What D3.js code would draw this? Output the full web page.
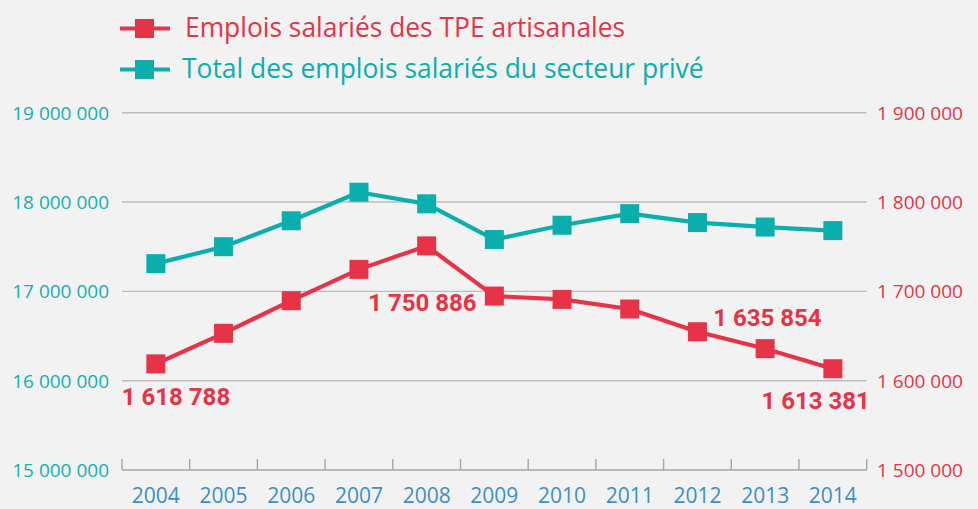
<!DOCTYPE html>
<html>
<head>
<meta charset="utf-8">
<script src="https://cdn.jsdelivr.net/npm/d3@7"></script>
<style>
  html, body { margin: 0; padding: 0; background: #f2f2f2; }
  svg { display: block; }
  .grid line { stroke: #bdbdbd; stroke-width: 1.4; }
  .ytick { font-family: "Open Sans", sans-serif; font-size: 19px; }
  .year { font-family: "Open Sans", sans-serif; font-size: 21px; fill: #3b8ecb; }
  .legend { font-family: "Open Sans", sans-serif; font-size: 26.4px; }
  .vlabel { font-family: Roboto, sans-serif; font-weight: bold; font-size: 24px; fill: #e63347; }
</style>
</head>
<body>
<script>
var years = [2004, 2005, 2006, 2007, 2008, 2009, 2010, 2011, 2012, 2013, 2014];
// Emplois salariés des TPE artisanales (axe de droite)
var tpe = [1618788, 1653000, 1689500, 1724600, 1750886, 1694700, 1691000, 1680200, 1654800, 1635854, 1613381];
// Total des emplois salariés du secteur privé (axe de gauche)
var prive = [17310000, 17500000, 17790000, 18110000, 17980000, 17580000, 17740000, 17870000, 17770000, 17720000, 17680000];
var leftTicks = [15000000, 16000000, 17000000, 18000000, 19000000];
var rightTicks = [1500000, 1600000, 1700000, 1800000, 1900000];
var seriesNames = ['Emplois salariés des TPE artisanales', 'Total des emplois salariés du secteur privé'];
var labelled = [2004, 2008, 2013, 2014];

var red = '#e63347', teal = '#0aafad';
var w = 978, h = 509;
var x0 = 122, x1 = 866.7, yTop = 112.7, yBot = 470;

var fmtBig = d3.formatLocale({decimal: ',', thousands: ' ', grouping: [3], currency: ['', '€']}).format(',d');

var x = d3.scaleBand().domain(years).range([x0, x1]);
var yL = d3.scaleLinear().domain([15000000, 19000000]).range([yBot, yTop]);
var yR = d3.scaleLinear().domain([1500000, 1900000]).range([yBot, yTop]);

var svg = d3.select('body').append('svg')
  .attr('width', w)
  .attr('height', h);

svg.append('rect').attr('width', w).attr('height', h).attr('fill', '#f2f2f2');

// grid
svg.append('g').attr('class', 'grid')
  .selectAll('line')
  .data(leftTicks.slice(1))
  .enter().append('line')
    .attr('x1', x0).attr('x2', x1)
    .attr('y1', function(d) { return yL(d); })
    .attr('y2', function(d) { return yL(d); });

// bottom axis line + ticks at band edges
svg.append('line')
  .attr('x1', x0).attr('x2', x1)
  .attr('y1', yBot).attr('y2', yBot)
  .style('stroke', '#a6a6a6').style('stroke-width', 1.6);

svg.selectAll('.xtick')
  .data(years.concat(['end']))
  .enter().append('line')
    .attr('class', 'xtick')
    .attr('x1', function(d) { return d === 'end' ? x1 : x(d); })
    .attr('x2', function(d) { return d === 'end' ? x1 : x(d); })
    .attr('y1', yBot - 11).attr('y2', yBot)
    .style('stroke', '#a6a6a6').style('stroke-width', 1.4);

svg.selectAll('.year')
  .data(years)
  .enter().append('text')
    .attr('class', 'year')
    .attr('x', function(d) { return x(d) + x.bandwidth() / 2; })
    .attr('y', 503)
    .style('text-anchor', 'middle')
    .text(function(d) { return d; });

// left axis labels
svg.selectAll('.yl')
  .data(leftTicks)
  .enter().append('text')
    .attr('class', 'ytick')
    .attr('x', 109)
    .attr('y', function(d) { return yL(d); })
    .attr('dy', '0.36em')
    .style('text-anchor', 'end')
    .style('fill', '#15b0ab')
    .text(function(d) { return fmtBig(d); });

// right axis labels
svg.selectAll('.yr')
  .data(rightTicks)
  .enter().append('text')
    .attr('class', 'ytick')
    .attr('x', 877)
    .attr('y', function(d) { return yR(d); })
    .attr('dy', '0.36em')
    .style('text-anchor', 'start')
    .style('fill', red)
    .text(function(d) { return fmtBig(d); });

function drawSeries(values, scale, color) {
  var pts = years.map(function(yr, i) { return {year: yr, v: values[i]}; });
  var line = d3.line()
    .x(function(d) { return x(d.year) + x.bandwidth() / 2; })
    .y(function(d) { return scale(d.v); });
  svg.append('path')
    .datum(pts)
    .attr('d', line)
    .attr('fill', 'none')
    .attr('stroke', color)
    .attr('stroke-width', 4.2)
    .attr('stroke-linejoin', 'round');
  svg.append('g').selectAll('rect')
    .data(pts)
    .enter().append('rect')
      .attr('x', function(d) { return x(d.year) + x.bandwidth() / 2 - 9.5; })
      .attr('y', function(d) { return scale(d.v) - 9.5; })
      .attr('width', 19)
      .attr('height', 19)
      .attr('fill', color);
}

drawSeries(prive, yL, teal);
drawSeries(tpe, yR, red);

// value labels
var labelPos = {
  2004: {dx: -34, dy: 41, anchor: 'start'},
  2008: {dx: 50, dy: 65, anchor: 'end'},
  2013: {dx: -52, dy: -22.6, anchor: 'start'},
  2014: {dx: 37, dy: 40, anchor: 'end'}
};
svg.selectAll('.vlabel')
  .data(labelled)
  .enter().append('text')
    .attr('class', 'vlabel')
    .attr('x', function(d) { return x(d) + x.bandwidth() / 2 + labelPos[d].dx; })
    .attr('y', function(d) { return yR(tpe[years.indexOf(d)]) + labelPos[d].dy; })
    .style('text-anchor', function(d) { return labelPos[d].anchor; })
    .text(function(d) { return fmtBig(tpe[years.indexOf(d)]); });

// legend
var lg = svg.selectAll('.lg')
  .data(seriesNames)
  .enter().append('g')
    .attr('transform', function(d, i) { return 'translate(0,' + [28.5, 69.5][i] + ')'; });

lg.append('line')
  .attr('x1', 120).attr('x2', 170)
  .attr('y1', 0).attr('y2', 0)
  .attr('stroke', function(d, i) { return [red, teal][i]; })
  .attr('stroke-width', 4.2);

lg.append('rect')
  .attr('x', 135).attr('y', -9.5)
  .attr('width', 19).attr('height', 19)
  .attr('fill', function(d, i) { return [red, teal][i]; });

lg.append('text')
  .attr('class', 'legend')
  .attr('x', function(d, i) { return [185, 182][i]; })
  .attr('y', 8.5)
  .style('fill', function(d, i) { return [red, teal][i]; })
  .text(function(d) { return d; });
</script>
</body>
</html>
